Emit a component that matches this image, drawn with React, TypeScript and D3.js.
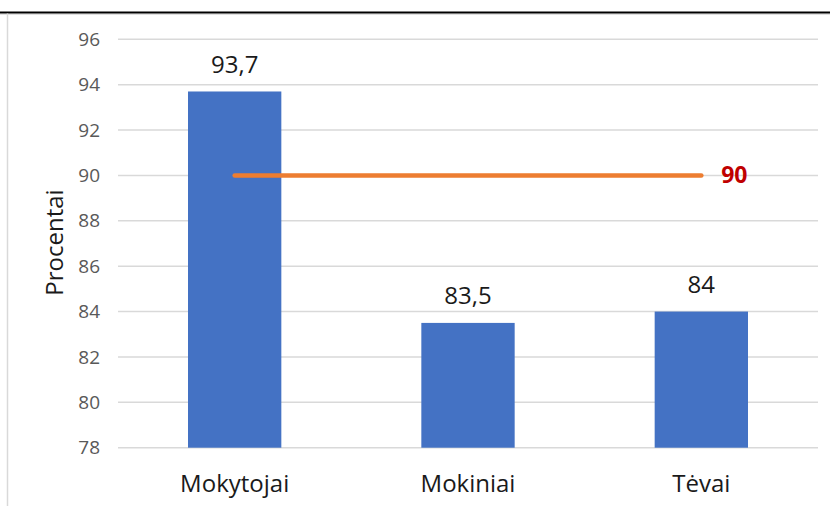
import React from "react";
import * as d3 from "d3";

const categories: string[] = ["Mokytojai", "Mokiniai", "Tėvai"];
const values: number[] = [93.7, 83.5, 84];
const valueLabels: string[] = ["93,7", "83,5", "84"];
const targetValue = 90;
const targetLabel = "90";
const yTicks: number[] = [78, 80, 82, 84, 86, 88, 90, 92, 94, 96];
const yTitle = "Procentai";

const W = 830;
const H = 506;
const FONT = "'Open Sans', 'Noto Sans', sans-serif";

export default function App() {
  const x = d3
    .scaleBand<string>()
    .domain(categories)
    .range([118, 818])
    .paddingInner(0.6)
    .paddingOuter(0.3);
  const y = d3.scaleLinear().domain([78, 96]).range([447.7, 39.3]);

  const firstC = x(categories[0])! + x.bandwidth() / 2;
  const lastC = x(categories[categories.length - 1])! + x.bandwidth() / 2;

  return (
    <svg
      width={W}
      height={H}
      style={{ position: "absolute", left: 0, top: 0, display: "block", background: "#fff" }}
    >
      <rect x={0} y={0} width={W} height={H} fill="#fff" />
      {/* frame */}
      <line x1={0} x2={W} y1={14.2} y2={14.2} stroke="#e0e0e0" strokeWidth={1.5} />
      <line x1={0} x2={W} y1={12.5} y2={12.5} stroke="#000" strokeWidth={2} />
      <line x1={7.5} x2={7.5} y1={13.5} y2={H} stroke="#d9d9d9" strokeWidth={1.5} />

      {/* gridlines */}
      {yTicks.map((t) => (
        <line key={t} x1={118} x2={818} y1={y(t)} y2={y(t)} stroke="#d9d9d9" strokeWidth={1.5} />
      ))}
      {/* tick labels */}
      {yTicks.map((t) => (
        <text
          key={"l" + t}
          x={100}
          y={y(t)}
          dy="0.35em"
          textAnchor="end"
          fontFamily={FONT}
          fontSize={19}
          fill="#595959"
        >
          {t}
        </text>
      ))}

      {/* bars */}
      {categories.map((c, i) => (
        <rect
          key={c}
          x={x(c)}
          y={y(values[i])}
          width={x.bandwidth()}
          height={y(78) - y(values[i])}
          fill="#4472C4"
        />
      ))}

      {/* data labels */}
      {categories.map((c, i) => (
        <text
          key={"v" + c}
          x={x(c)! + x.bandwidth() / 2}
          y={y(values[i]) - 18.5}
          textAnchor="middle"
          fontFamily={FONT}
          fontSize={24}
          fill="#1a1a1a"
        >
          {valueLabels[i]}
        </text>
      ))}

      {/* target line */}
      <line
        x1={firstC}
        x2={lastC}
        y1={y(targetValue)}
        y2={y(targetValue)}
        stroke="#ED7D31"
        strokeWidth={4.5}
        strokeLinecap="round"
      />
      <text
        x={lastC + 33}
        y={y(targetValue)}
        dy="0.35em"
        textAnchor="middle"
        fontFamily={FONT}
        fontSize={23}
        fontWeight="bold"
        fill="#C00000"
      >
        {targetLabel}
      </text>

      {/* category labels */}
      {categories.map((c) => (
        <text
          key={"c" + c}
          x={x(c)! + x.bandwidth() / 2}
          y={491.5}
          textAnchor="middle"
          fontFamily={FONT}
          fontSize={24}
          fill="#1a1a1a"
        >
          {c}
        </text>
      ))}

      {/* y title */}
      <text
        transform={`translate(63,242.5) rotate(-90)`}
        textAnchor="middle"
        fontFamily={FONT}
        fontSize={24}
        fill="#1a1a1a"
      >
        {yTitle}
      </text>
    </svg>
  );
}
